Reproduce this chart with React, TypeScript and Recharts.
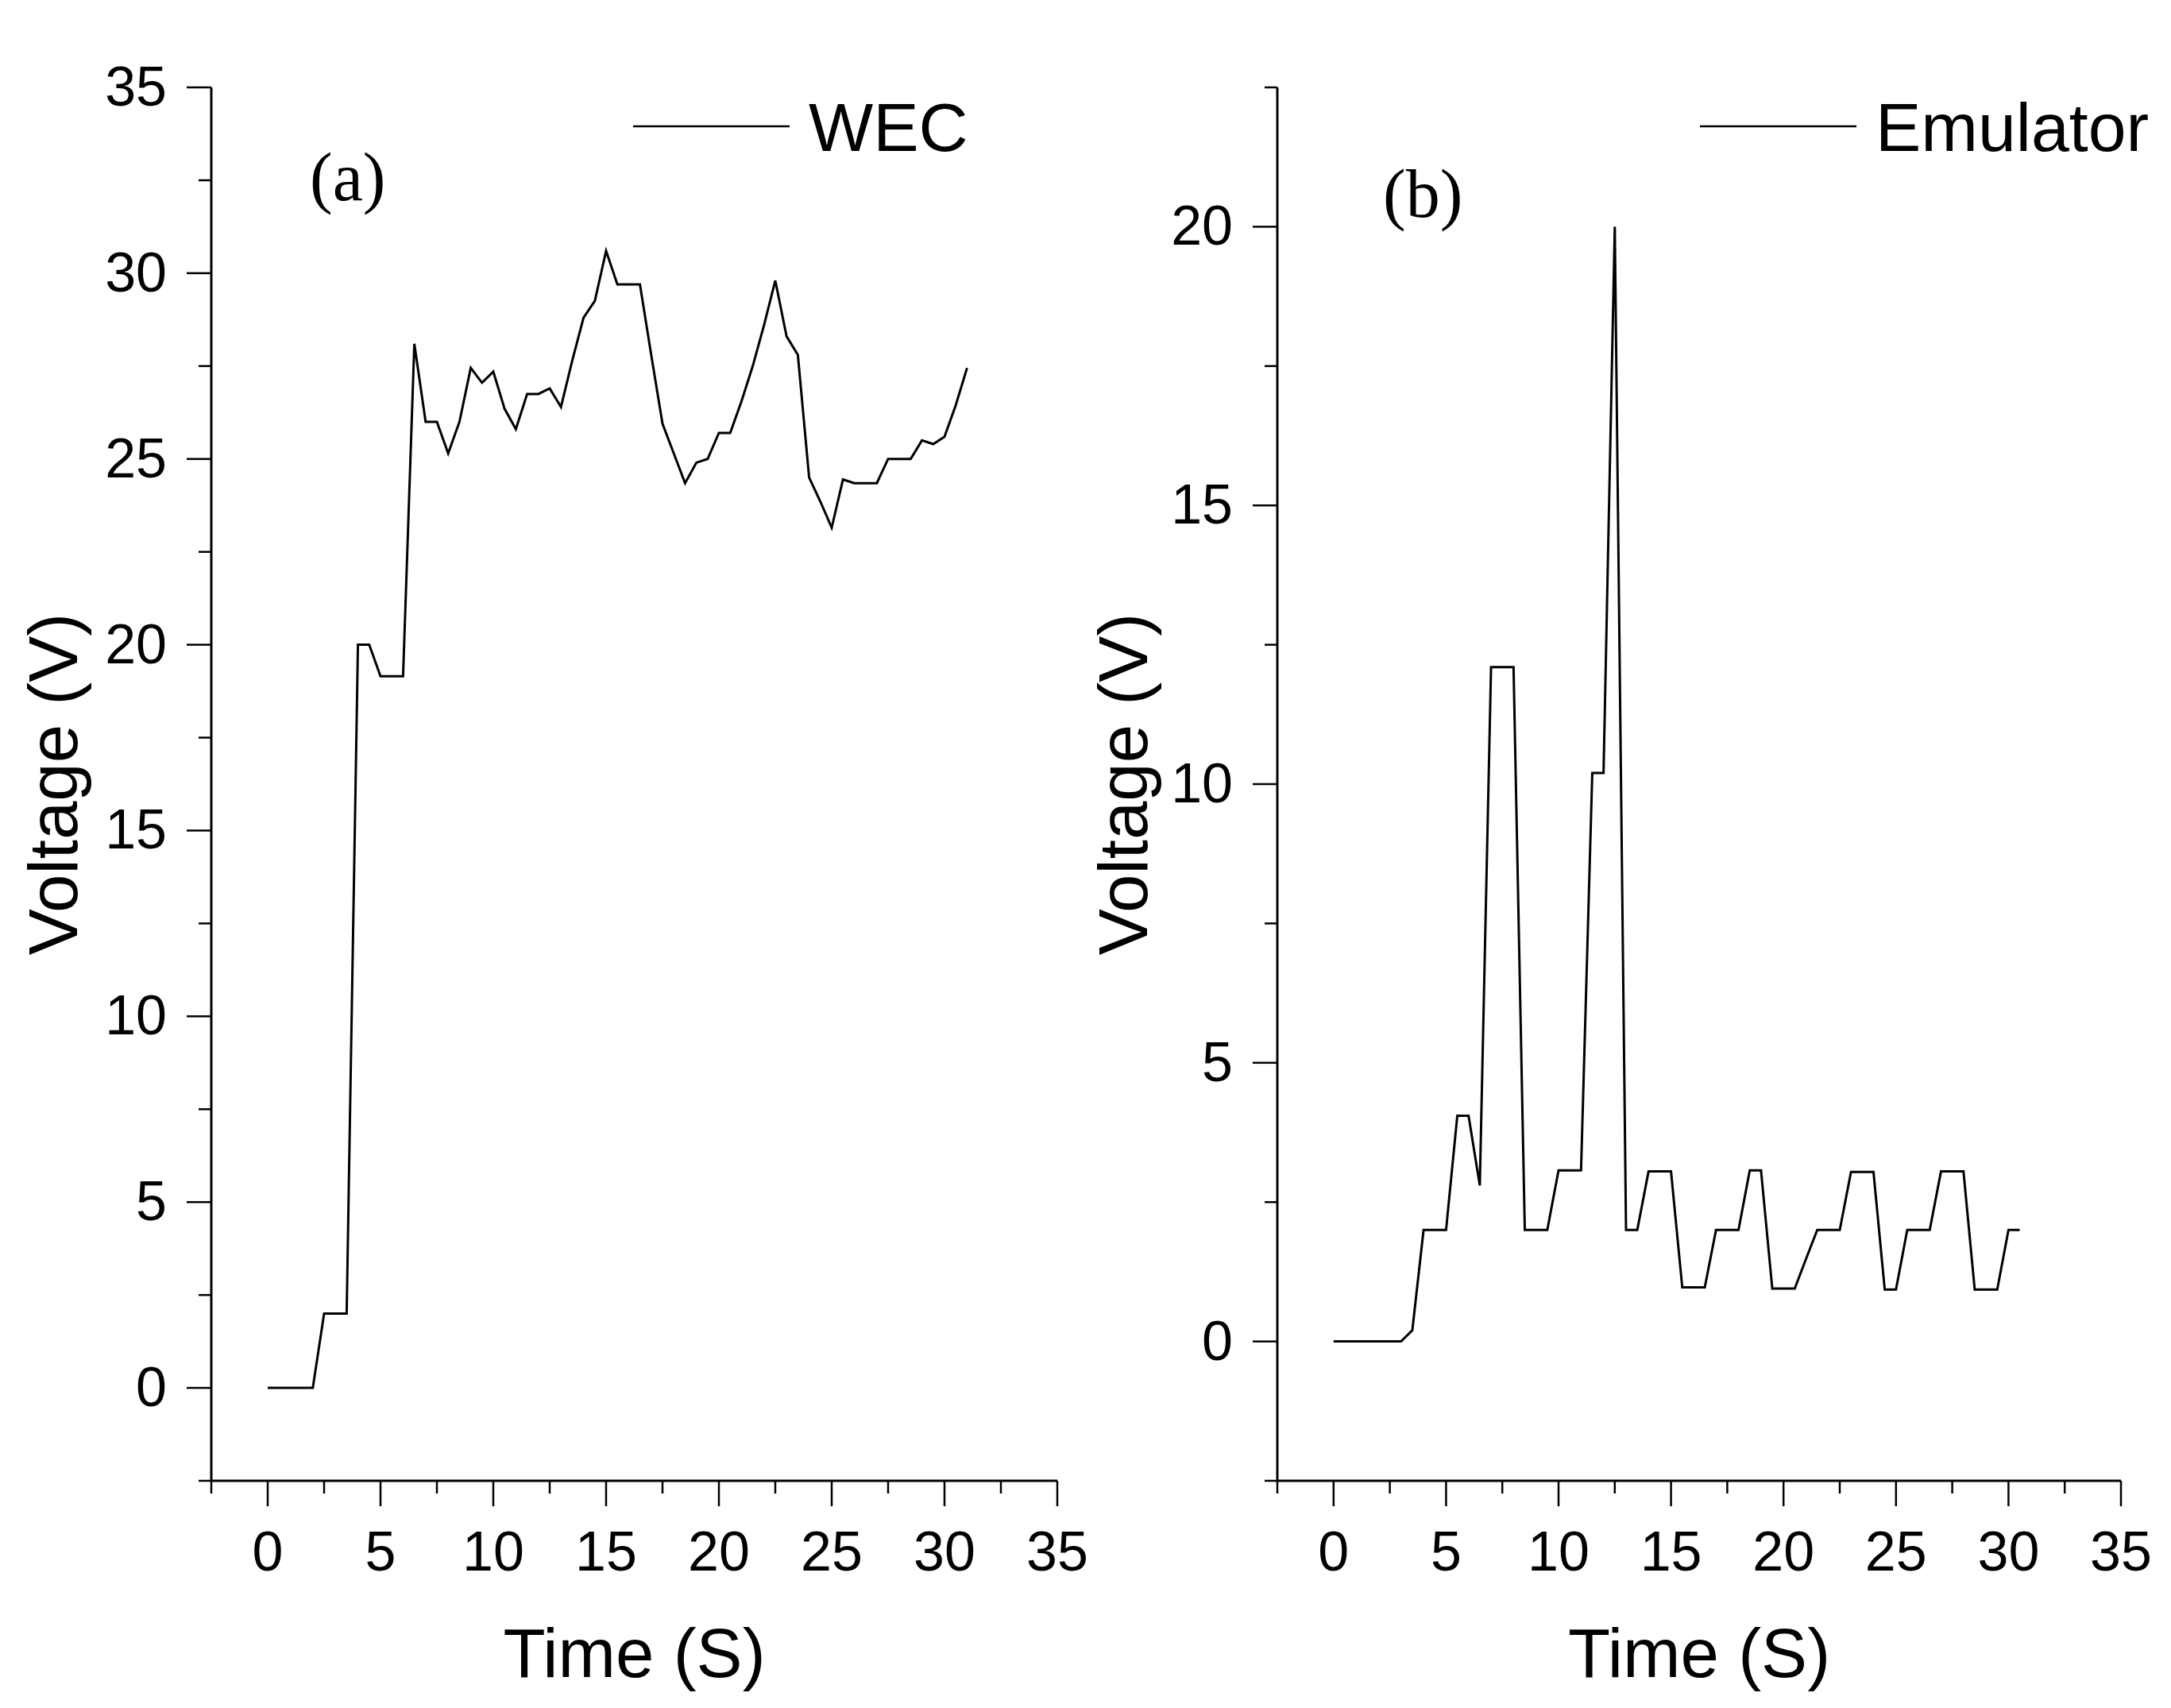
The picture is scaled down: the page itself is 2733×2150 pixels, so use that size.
import { LineChart, Line, XAxis, YAxis, Legend } from "recharts";

// time (s) and voltage (V)
const wecTime = [
  0, 0.5, 1, 1.5, 2, 2.5, 3, 3.5, 4, 4.5, 5, 5.5, 6, 6.5, 7, 7.5, 8, 8.5, 9, 9.5,
  10, 10.5, 11, 11.5, 12, 12.5, 13, 13.5, 14, 14.5, 15, 15.5, 16, 16.5, 17, 17.5,
  18, 18.5, 19, 19.5, 20, 20.5, 21, 21.5, 22, 22.5, 23, 23.5, 24, 24.5, 25, 25.5,
  26, 26.5, 27, 27.5, 28, 28.5, 29, 29.5, 30, 30.5, 31,
];
const wecVoltage = [
  0, 0, 0, 0, 0, 2.0, 2.0, 2.0, 20.0, 20.0, 19.15, 19.15, 19.15, 28.1, 26.0, 26.0,
  25.15, 26.0, 27.45, 27.05, 27.35, 26.35, 25.8, 26.75, 26.75, 26.9, 26.4, 27.65,
  28.8, 29.25, 30.6, 29.7, 29.7, 29.7, 27.8, 25.95, 25.15, 24.35, 24.9, 25.0, 25.7,
  25.7, 26.55, 27.5, 28.6, 29.8, 28.3, 27.8, 24.5, 23.85, 23.15, 24.45, 24.35,
  24.35, 24.35, 25.0, 25.0, 25.0, 25.5, 25.4, 25.6, 26.45, 27.45,
];

const emuTime = [
  0, 0.5, 1, 1.5, 2, 2.5, 3, 3.5, 4, 4.5, 5, 5.5, 6, 6.5, 7, 7.5, 8, 8.5, 9, 9.5,
  10, 10.5, 11, 11.5, 12, 12.5, 13, 13.5, 14, 14.5, 15, 15.5, 16, 16.5, 17, 17.5,
  18, 18.5, 19, 19.5, 20, 20.5, 21, 21.5, 22, 22.5, 23, 23.5, 24, 24.5, 25, 25.5,
  26, 26.5, 27, 27.5, 28, 28.5, 29, 29.5, 30, 30.5,
];
const emuVoltage = [
  0, 0, 0, 0, 0, 0, 0, 0.2, 2.0, 2.0, 2.0, 4.05, 4.05, 2.8, 12.1, 12.1, 12.1, 2.0,
  2.0, 2.0, 3.07, 3.07, 3.07, 10.2, 10.2, 20.0, 2.0, 2.0, 3.05, 3.05, 3.05, 0.97,
  0.97, 0.97, 2.0, 2.0, 2.0, 3.07, 3.07, 0.95, 0.95, 0.95, 1.48, 2.0, 2.0, 2.0,
  3.04, 3.04, 3.04, 0.93, 0.93, 2.0, 2.0, 2.0, 3.05, 3.05, 3.05, 0.93, 0.93, 0.93,
  2.0, 2.0,
];

const xTicks = [-2.5, 0, 2.5, 5, 7.5, 10, 12.5, 15, 17.5, 20, 22.5, 25, 27.5, 30, 32.5, 35];
const yTicksA = [-2.5, 0, 2.5, 5, 7.5, 10, 12.5, 15, 17.5, 20, 22.5, 25, 27.5, 30, 32.5, 35];
const yTicksB = [-2.5, 0, 2.5, 5, 7.5, 10, 12.5, 15, 17.5, 20, 22.5];

const wecData = wecTime.map((t, i) => ({ t, v: wecVoltage[i] }));
const emuData = emuTime.map((t, i) => ({ t, v: emuVoltage[i] }));

const SANS = '"Liberation Sans", Arial, sans-serif';
const SERIF = '"Liberation Serif", "Times New Roman", serif';

const isMajor = (v: number) => Math.abs(v % 5) < 1e-6;

function BottomTick({ x, y, payload }: any) {
  const major = isMajor(payload.value);
  return (
    <g>
      <line x1={x} y1={y} x2={x} y2={y + (major ? 32 : 16)} stroke="#000" strokeWidth={2.5} />
      {major && (
        <text x={x} y={y + 113} textAnchor="middle" fontSize={70} fontFamily={SANS} fill="#000">
          {payload.value}
        </text>
      )}
    </g>
  );
}

function LeftTick({ x, y, payload }: any) {
  const major = isMajor(payload.value);
  return (
    <g>
      <line x1={x} y1={y} x2={x - (major ? 31 : 16)} y2={y} stroke="#000" strokeWidth={2.5} />
      {major && (
        <text x={x - 56} y={y + 23} textAnchor="end" fontSize={70} fontFamily={SANS} fill="#000">
          {payload.value}
        </text>
      )}
    </g>
  );
}

const yTitle = (baseX: number) => ({ viewBox }: any) => {
  const cx = viewBox.x + baseX;
  const cy = viewBox.y + viewBox.height / 2;
  return (
    <text x={cx} y={cy} transform={`rotate(-90 ${cx} ${cy})`} textAnchor="middle"
      fontSize={87} fontFamily={SANS} fill="#000">
      Voltage (V)
    </text>
  );
};

const xTitle = ({ viewBox }: any) => (
  <text x={viewBox.x + viewBox.width / 2} y={viewBox.y + 247} textAnchor="middle"
    fontSize={87} fontFamily={SANS} fill="#000">
    Time (S)
  </text>
);

const legendContent = (props: any) => {
  const item = props.payload?.[0];
  return (
    <svg width={620} height={120} style={{ display: "block" }}>
      <line x1={7} y1={59} x2={204} y2={59} stroke="#000" strokeWidth={2.5} />
      <text x={228} y={90} fontSize={86} fontFamily={SANS} fill="#000">{item?.value}</text>
    </svg>
  );
};

interface PanelProps {
  data: { t: number; v: number }[];
  name: string;
  width: number;
  axisWidth: number;
  right: number;
  yDomain: [number, number];
  yTicks: number[];
  titleX: number;
  legendLeft: number;
}

function Panel({ data, name, width, axisWidth, right, yDomain, yTicks, titleX, legendLeft }: PanelProps) {
  return (
    <LineChart width={width} height={2150} data={data} margin={{ top: 110, right, bottom: 0, left: 0 }}>
      <XAxis
        dataKey="t" type="number" domain={[-2.5, 35]} ticks={xTicks} interval={0} height={286}
        axisLine={{ stroke: "#000", strokeWidth: 3 }} tickLine={false} tickSize={0} tickMargin={0}
        tick={BottomTick} label={{ content: xTitle }}
      />
      <YAxis
        type="number" domain={yDomain} ticks={yTicks} interval={0} width={axisWidth}
        axisLine={{ stroke: "#000", strokeWidth: 3 }} tickLine={false} tickSize={0} tickMargin={0}
        tick={LeftTick} label={{ content: yTitle(titleX) }}
      />
      <Legend
        layout="horizontal" verticalAlign="middle" align="center" content={legendContent}
        wrapperStyle={{ left: legendLeft, top: 100, width: 620, height: 120 }}
      />
      <Line type="linear" dataKey="v" name={name} stroke="#000" strokeWidth={3} dot={false}
        isAnimationActive={false} />
    </LineChart>
  );
}

const panelLetters = [
  { text: "(a)", x: 390, y: 252 },
  { text: "(b)", x: 1741, y: 273 },
];

export default function App() {
  return (
    <div style={{ position: "absolute", left: 0, top: 0, width: 2733, height: 2150, background: "#fff" }}>
      <div style={{ position: "absolute", left: 0, top: 0 }}>
        <Panel data={wecData} name="WEC" width={1420} axisWidth={266} right={89}
          yDomain={[-2.5, 35]} yTicks={yTicksA} titleX={97} legendLeft={790} />
      </div>
      <div style={{ position: "absolute", left: 1366, top: 0 }}>
        <Panel data={emuData} name="Emulator" width={1367} axisWidth={242} right={63}
          yDomain={[-2.5, 22.5]} yTicks={yTicksB} titleX={78} legendLeft={767} />
      </div>
      <svg width={2733} height={2150} style={{ position: "absolute", left: 0, top: 0, pointerEvents: "none" }}>
        {panelLetters.map((p) => (
          <text key={p.text} x={p.x} y={p.y} fontSize={86} fontFamily={SERIF} fill="#000">{p.text}</text>
        ))}
      </svg>
    </div>
  );
}
